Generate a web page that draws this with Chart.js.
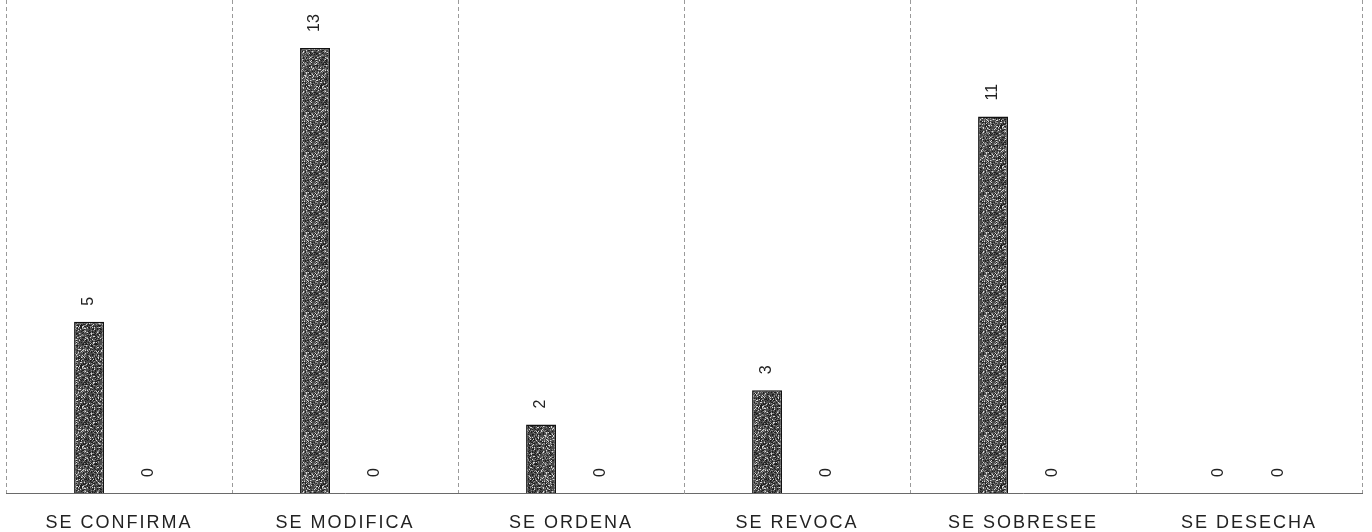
<!DOCTYPE html>
<html>
<head>
<meta charset="utf-8">
<script src="https://cdn.jsdelivr.net/npm/chart.js@4/dist/chart.umd.min.js"></script>
<style>
  body { margin: 0; background: #fff; }
  #wrap { width: 1372px; height: 532px; }
</style>
</head>
<body>
<div id="wrap"><canvas id="bar-chart"></canvas></div>
<script>
const categories = ["SE CONFIRMA", "SE MODIFICA", "SE ORDENA", "SE REVOCA", "SE SOBRESEE", "SE DESECHA"];
const series1 = [5, 13, 2, 3, 11, 0];
const series2 = [0, 0, 0, 0, 0, 0];

// speckled dark-gray fill, like the scanned bars
function makeTexture() {
  const c = document.createElement("canvas");
  c.width = 40;
  c.height = 40;
  const g = c.getContext("2d");
  g.fillStyle = "#4a4a4a";
  g.fillRect(0, 0, 40, 40);
  for (let y = 0; y < 40; y++) {
    for (let x = 0; x < 40; x++) {
      const h = Math.abs(Math.sin(x * 12.9898 + y * 78.233) * 43758.5453) % 1;
      if (h > 0.72) {
        g.fillStyle = h > 0.9 ? "#d8d8d8" : "#8a8a8a";
        g.fillRect(x, y, 1, 1);
      } else if (h < 0.2) {
        g.fillStyle = "#1e1e1e";
        g.fillRect(x, y, 1, 1);
      }
    }
  }
  return g.createPattern(c, "repeat");
}

const spacingPlugin = {
  id: "spacing",
  beforeDraw(chart) {
    chart.ctx.letterSpacing = "2px";
  },
};

const valueLabels = {
  id: "valueLabels",
  afterDatasetsDraw(chart) {
    const ctx = chart.ctx;
    ctx.save();
    ctx.letterSpacing = "0px";
    ctx.font = "16px 'Liberation Sans', sans-serif";
    ctx.fillStyle = "#222";
    ctx.textAlign = "left";
    ctx.textBaseline = "middle";
    chart.data.datasets.forEach(function (ds, i) {
      const meta = chart.getDatasetMeta(i);
      meta.data.forEach(function (bar, j) {
        ctx.save();
        ctx.translate(bar.x, bar.y - 16);
        ctx.rotate(-Math.PI / 2);
        ctx.fillText(String(ds.data[j]), 0, 0);
        ctx.restore();
      });
    });
    ctx.restore();
  },
};

const ctx = document.getElementById("bar-chart");
const texture = makeTexture();

new Chart(ctx, {
  type: "bar",
  data: {
    labels: categories,
    datasets: [
      {
        label: "Serie 1",
        data: series1,
        backgroundColor: texture,
        borderColor: "#111",
        borderWidth: 1.5,
        categoryPercentage: 0.53,
        barPercentage: 0.5,
      },
      {
        label: "Serie 2",
        data: series2,
        backgroundColor: "#4a4a4a",
        borderWidth: 0,
        categoryPercentage: 0.53,
        barPercentage: 0.5,
      },
    ],
  },
  options: {
    responsive: true,
    maintainAspectRatio: false,
    animation: false,
    layout: {
      padding: { left: 6, right: 10, top: 0, bottom: 0 },
    },
    plugins: {
      legend: { display: false },
      tooltip: { enabled: false },
    },
    scales: {
      x: {
        afterFit(scale) {
          scale.height = 39;
        },
        grid: {
          color: "#9a9a9a",
          lineWidth: 1,
          drawTicks: false,
        },
        border: {
          color: "#6a6a6a",
          width: 1,
          dash: [4, 3],
        },
        ticks: {
          color: "#222",
          padding: 19,
          font: { family: "'Liberation Sans', sans-serif", size: 18 },
        },
      },
      y: {
        display: false,
        min: 0,
        max: 14.4,
      },
    },
  },
  plugins: [spacingPlugin, valueLabels],
});
</script>
</body>
</html>
